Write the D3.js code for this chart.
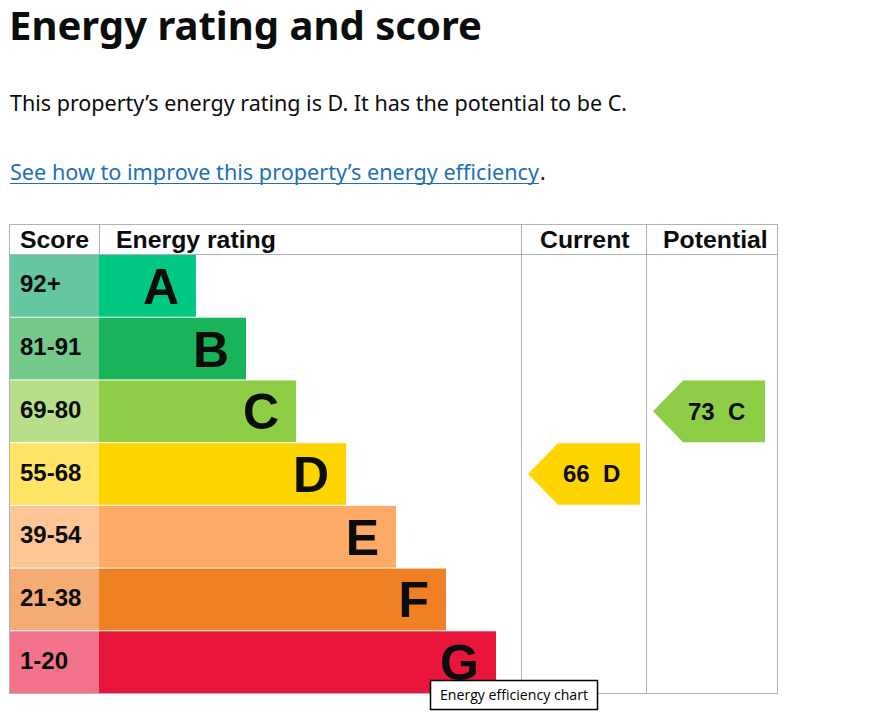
<!DOCTYPE html>
<html lang="en">
<head>
  <meta charset="UTF-8">
  <title>Energy rating and score</title>
  <style>
    body { margin: 0; background: #fff; }
    svg { display: block; }
  </style>
</head>
<body>
  <svg id="svg" width="894" height="716"></svg>
  <script src="https://d3js.org/d3.v7.min.js"></script>
  <script>
    // data
    const bands = ['A', 'B', 'C', 'D', 'E', 'F', 'G']
    const scores = ['92+', '81-91', '69-80', '55-68', '39-54', '21-38', '1-20']
    const barSteps = [1, 2, 3, 4, 5, 6, 7]
    const bandColors = ['#00c781', '#19b459', '#8dce46', '#ffd500', '#fcaa65', '#ef8023', '#e9153b']
    const scoreColors = ['#64c7a0', '#74c98b', '#b7de89', '#ffe466', '#fec596', '#f4ab74', '#f2738a']
    const columns = ['Score', 'Energy rating', 'Current', 'Potential']
    const ratings = [
      { column: 'Current', score: 66, band: 'D' },
      { column: 'Potential', score: 73, band: 'C' }
    ]

    const svg = d3.select('#svg')
    const grey = '#b1b4b6'
    const bodyFont = '"Noto Sans", "Open Sans", sans-serif'
    const chartFont = '"Liberation Sans", Arial, sans-serif'

    // heading and intro text
    svg.append('text')
      .attr('x', 9).attr('y', 40)
      .attr('font-family', bodyFont)
      .attr('font-weight', 700)
      .attr('font-size', 40)
      .attr('textLength', 473)
      .attr('lengthAdjust', 'spacingAndGlyphs')
      .attr('fill', '#0b0c0c')
      .text('Energy rating and score')

    svg.append('text')
      .attr('x', 10).attr('y', 111)
      .attr('font-family', bodyFont)
      .attr('font-size', 21)
      .attr('textLength', 617)
      .attr('lengthAdjust', 'spacingAndGlyphs')
      .attr('fill', '#0b0c0c')
      .text('This property’s energy rating is D. It has the potential to be C.')

    svg.append('text')
      .attr('x', 10).attr('y', 180)
      .attr('font-family', bodyFont)
      .attr('font-size', 21)
      .attr('textLength', 529)
      .attr('lengthAdjust', 'spacingAndGlyphs')
      .attr('fill', '#1d70b8')
      .text('See how to improve this property’s energy efficiency')
    svg.append('line')
      .attr('x1', 10).attr('x2', 539)
      .attr('y1', 183.5).attr('y2', 183.5)
      .attr('stroke', '#1d70b8').attr('stroke-width', 1.2)
    svg.append('text')
      .attr('x', 540).attr('y', 180)
      .attr('font-family', bodyFont)
      .attr('font-size', 21)
      .attr('fill', '#0b0c0c')
      .text('.')

    // table scales
    const colX = d3.scaleOrdinal()
      .domain(columns)
      .range([9, 99, 521, 646])
    const colRight = 777
    const tableTop = 224
    const headBottom = 255
    const tableBottom = 693

    const y = d3.scaleBand()
      .domain(bands)
      .range([headBottom, tableBottom])
      .paddingInner(0.016)

    const barEnd = d3.scaleLinear()
      .domain([1, 7])
      .range([196, 496])

    const chart = svg.append('g')

    // score cells
    chart.selectAll('rect.score')
      .data(bands)
      .enter()
      .append('rect')
      .attr('class', 'score')
      .attr('x', colX('Score'))
      .attr('y', d => y(d))
      .attr('width', colX('Energy rating') - colX('Score'))
      .attr('height', y.bandwidth())
      .attr('fill', (d, i) => scoreColors[i])

    chart.selectAll('text.score')
      .data(bands)
      .enter()
      .append('text')
      .attr('class', 'score')
      .attr('x', colX('Score') + 11)
      .attr('y', d => y(d) + y.bandwidth() / 2 + 6.5)
      .attr('font-family', chartFont)
      .attr('font-weight', 700)
      .attr('font-size', 24)
      .attr('fill', '#0b0c0c')
      .text((d, i) => scores[i])

    // rating bars
    chart.selectAll('rect.bar')
      .data(bands)
      .enter()
      .append('rect')
      .attr('class', 'bar')
      .attr('x', colX('Energy rating'))
      .attr('y', d => y(d))
      .attr('width', (d, i) => barEnd(barSteps[i]) - colX('Energy rating'))
      .attr('height', y.bandwidth())
      .attr('fill', (d, i) => bandColors[i])

    chart.selectAll('text.bar')
      .data(bands)
      .enter()
      .append('text')
      .attr('class', 'bar')
      .attr('x', (d, i) => barEnd(barSteps[i]) - 17)
      .attr('y', d => y(d) + y.bandwidth() / 2 + 18)
      .attr('text-anchor', 'end')
      .attr('font-family', chartFont)
      .attr('font-weight', 700)
      .attr('font-size', 50)
      .attr('fill', '#0b0c0c')
      .text(d => d)

    // grid lines
    const lines = chart.append('g')
      .attr('stroke', grey)
      .attr('stroke-width', 1)
      .attr('shape-rendering', 'crispEdges')
    lines.append('rect')
      .attr('x', 9.5).attr('y', tableTop + 0.5)
      .attr('width', colRight - 9).attr('height', tableBottom - tableTop)
      .attr('fill', 'none')
    lines.append('line')
      .attr('x1', 9).attr('x2', colRight)
      .attr('y1', headBottom - 0.5).attr('y2', headBottom - 0.5)
    lines.append('line')
      .attr('x1', colX('Energy rating') + 0.5).attr('x2', colX('Energy rating') + 0.5)
      .attr('y1', tableTop).attr('y2', headBottom)
    lines.selectAll('line.col')
      .data(['Current', 'Potential'])
      .enter()
      .append('line')
      .attr('class', 'col')
      .attr('x1', d => colX(d) + 0.5).attr('x2', d => colX(d) + 0.5)
      .attr('y1', tableTop).attr('y2', tableBottom)

    // headers
    const headX = { 'Score': 20, 'Energy rating': 116, 'Current': 540, 'Potential': 663 }
    chart.selectAll('text.head')
      .data(columns)
      .enter()
      .append('text')
      .attr('class', 'head')
      .attr('x', d => headX[d])
      .attr('y', 248)
      .attr('font-family', chartFont)
      .attr('font-weight', 700)
      .attr('font-size', 24.8)
      .attr('fill', '#0b0c0c')
      .text(d => d)

    // current / potential arrows
    const notch = 30
    const arrowW = 112
    const arrows = chart.selectAll('g.arrow')
      .data(ratings)
      .enter()
      .append('g')
      .attr('class', 'arrow')
      .attr('transform', d => `translate(${colX(d.column) + 7},${y(d.band)})`)

    arrows.append('path')
      .attr('d', d => {
        const h = y.bandwidth()
        return `M0,${h / 2}L${notch},0H${arrowW}V${h}H${notch}Z`
      })
      .attr('fill', d => bandColors[bands.indexOf(d.band)])

    arrows.append('text')
      .attr('x', 35)
      .attr('y', y.bandwidth() / 2 + 8.5)
      .attr('font-family', chartFont)
      .attr('font-weight', 700)
      .attr('font-size', 24)
      .attr('fill', '#0b0c0c')
      .style('white-space', 'pre')
      .text(d => `${d.score}  ${d.band}`)

    // tooltip
    const tip = svg.append('g').attr('transform', 'translate(430,680)')
    tip.append('rect')
      .attr('x', 0.5).attr('y', 0.5)
      .attr('width', 167).attr('height', 29)
      .attr('fill', '#fff')
      .attr('stroke', '#000')
      .attr('stroke-width', 1.5)
    tip.append('text')
      .attr('x', 10).attr('y', 19.5)
      .attr('font-family', '"Open Sans", "Noto Sans", sans-serif')
      .attr('font-size', 14.5)
      .attr('textLength', 148)
      .attr('lengthAdjust', 'spacingAndGlyphs')
      .attr('fill', '#000')
      .text('Energy efficiency chart')
  </script>
</body>
</html>
